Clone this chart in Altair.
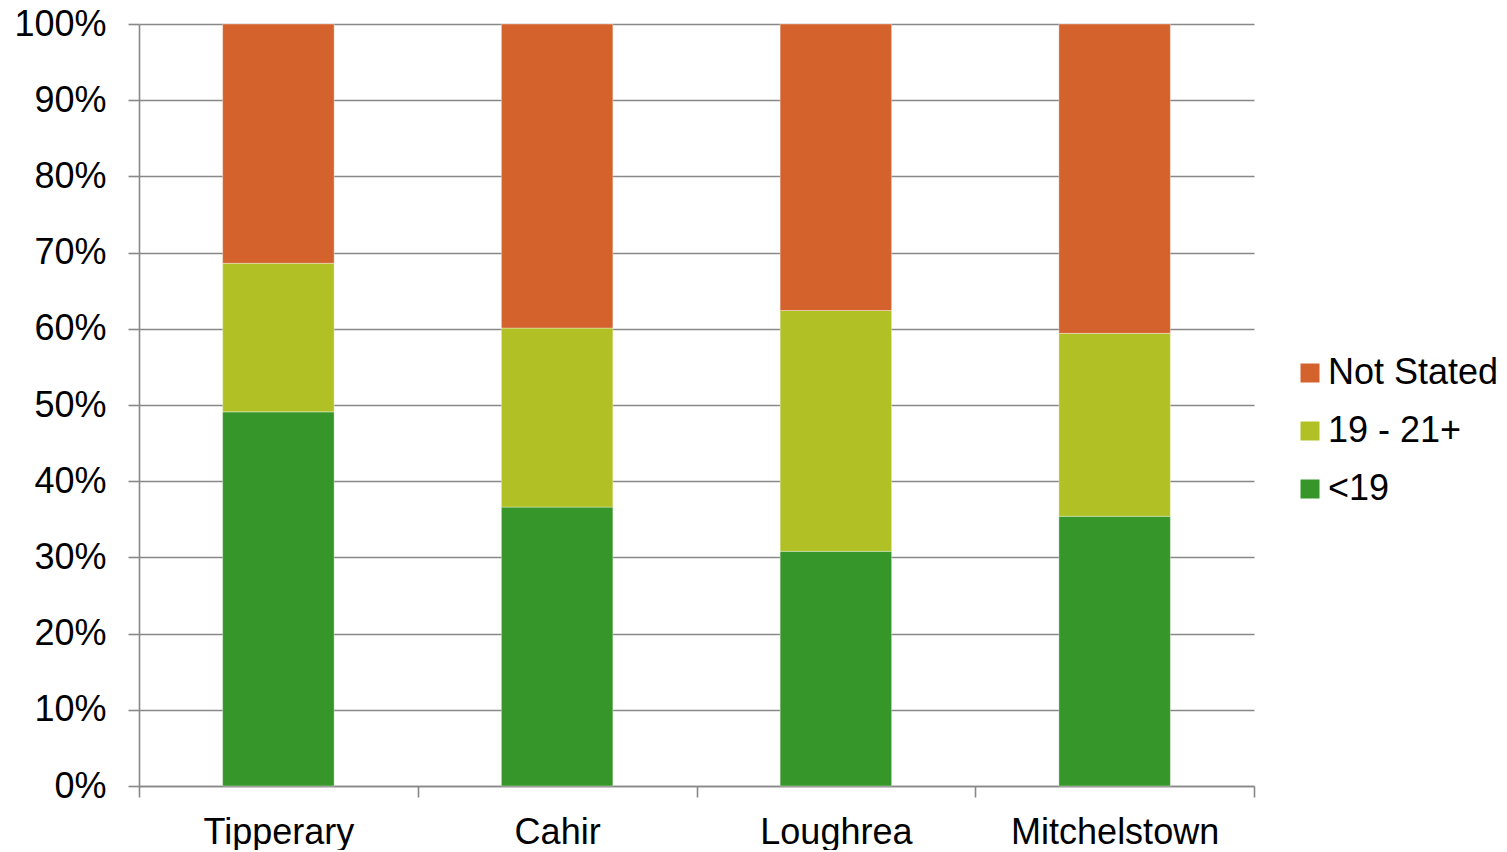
import altair as alt
import pandas as pd

towns = ["Tipperary", "Cahir", "Loughrea", "Mitchelstown"]
under19 = [49.1, 36.6, 30.8, 35.4]
age19_21 = [19.5, 23.5, 31.6, 24.0]
not_stated = [31.4, 39.9, 37.6, 40.6]

series_names = ["<19", "19 - 21+", "Not Stated"]
legend_order = ["Not Stated", "19 - 21+", "<19"]
colors = {"Not Stated": "#D4622C", "19 - 21+": "#B1C125", "<19": "#37962A"}

rows = []
for i, t in enumerate(towns):
    for k, (name, vals) in enumerate(zip(series_names, [under19, age19_21, not_stated])):
        rows.append({"town": t, "series": name, "value": vals[i], "order": k})
df = pd.DataFrame(rows)

FONT = "Liberation Sans"
GRAY = "#888888"

chart = alt.Chart(df).mark_bar(width={"band": 0.4}, stroke="#ffffff", strokeWidth=0.6,
                               strokeOpacity=0.6).encode(
    x=alt.X("town:N", sort=towns, title=None,
            scale=alt.Scale(paddingInner=0, paddingOuter=0),
            axis=alt.Axis(labelAngle=0, labelFontSize=36, labelFont=FONT, labelColor="#000000",
                          labelLimit=0, tickBand="extent", tickSize=11, tickColor=GRAY,
                          tickWidth=1.6, domainColor=GRAY, domainWidth=1.6, labelPadding=18)),
    y=alt.Y("value:Q", stack="normalize", title=None,
            scale=alt.Scale(domain=[0, 1], nice=False),
            axis=alt.Axis(format=".0%", values=[i / 10 for i in range(11)], labelFontSize=36,
                          labelFont=FONT, labelColor="#000000", labelLimit=0, tickSize=11,
                          tickColor=GRAY, tickWidth=1.6, domainColor=GRAY, domainWidth=1.6,
                          gridColor=GRAY, gridWidth=1.6, labelPadding=22)),
    color=alt.Color("series:N",
                    scale=alt.Scale(domain=legend_order, range=[colors[s] for s in legend_order]),
                    legend=alt.Legend(title=None, orient="none", legendX=1153, legendY=331,
                                      symbolType="square", symbolSize=361, symbolStrokeWidth=0,
                                      labelFontSize=36, labelFont=FONT, labelColor="#000000",
                                      labelLimit=0, labelOffset=0, rowPadding=22)),
    order=alt.Order("order:Q", sort="ascending"),
).properties(
    width=1115, height=762,
    autosize=alt.AutoSizeParams(type="none"),
    padding={"left": 131, "top": 16, "right": 244, "bottom": 64},
).configure_view(stroke=None)

chart.save("out.html", embed_options={"renderer": "svg", "actions": False})
